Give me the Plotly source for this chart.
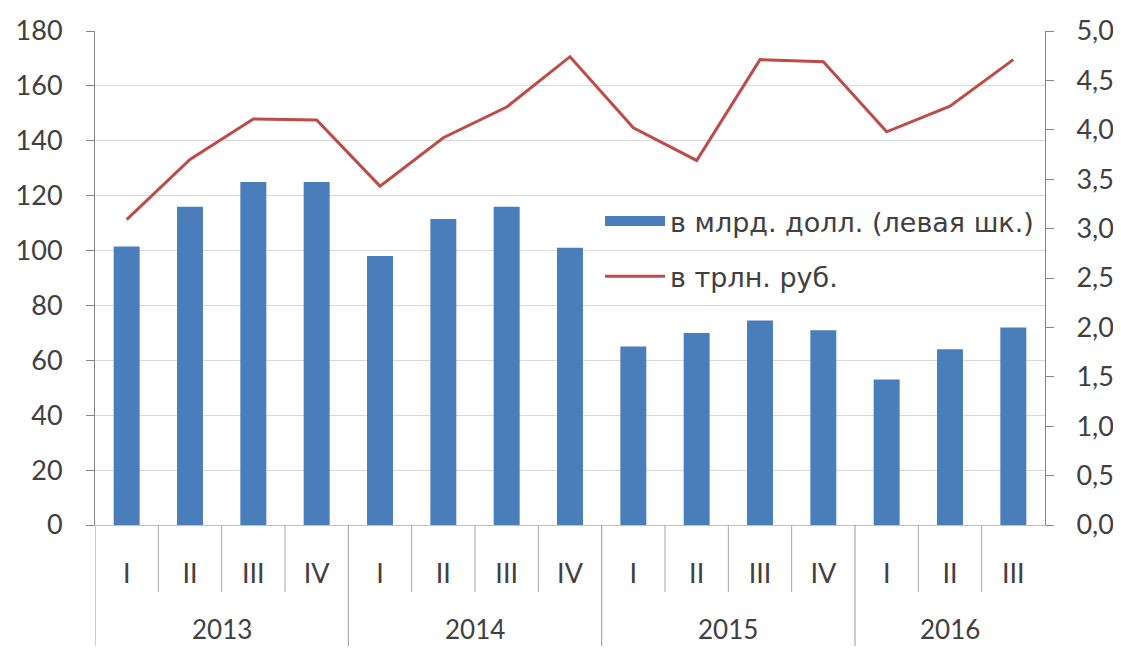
import plotly.graph_objects as go

years = ["2013", "2014", "2015", "2016"]
quarters_per_year = [4, 4, 4, 3]
quarter_names = ["I", "II", "III", "IV"]
usd_bn = [101.5, 116, 125, 125, 98, 111.5, 116, 101, 65, 70, 74.5, 71, 53, 64, 72]
rub_trn = [3.09, 3.70, 4.11, 4.10, 3.43, 3.92, 4.23, 4.74, 4.02, 3.69, 4.71, 4.69, 3.98, 4.24, 4.71]
label_bar = "в млрд. долл. (левая шк.)"
label_line = "в трлн. руб."

quarters = []
for n in quarters_per_year:
    quarters += quarter_names[:n]
x = list(range(len(quarters)))

BLUE = "#4a7ebb"
RED = "#be4b48"
TXT = "#404040"
FONT = "Lato"
FS = 27
LFONT = "DejaVu Sans"

fig = go.Figure()
fig.add_trace(go.Bar(x=x, y=usd_bn, marker=dict(color=BLUE, line=dict(width=0)),
                     width=0.41, name=label_bar, showlegend=False, legendgroup="a"))
fig.add_trace(go.Scatter(x=[None], y=[None], mode="lines", name=label_bar,
                         line=dict(color=BLUE, width=18), legendgroup="a"))
fig.add_trace(go.Scatter(x=x, y=rub_trn, mode="lines", name=label_line,
                         line=dict(color=RED, width=3), yaxis="y2", legendgroup="b"))

shapes = []
annotations = []
start = 0
for yr, n in zip(years, quarters_per_year):
    shapes.append(dict(type="line", xref="x", yref="paper", x0=start - 0.5, x1=start - 0.5,
                       y0=0, y1=-0.3, line=dict(color="#9a9a9a", width=1)))
    for k in range(1, n):
        shapes.append(dict(type="line", xref="x", yref="paper", x0=start + k - 0.5, x1=start + k - 0.5,
                           y0=0, y1=-0.1356, line=dict(color="#a6a6a6", width=1)))
    annotations.append(dict(x=start + (n - 1) / 2, y=-0.2105, xref="x", yref="paper", text=yr,
                            showarrow=False, font=dict(size=26, color=TXT, family=FONT),
                            yanchor="middle", borderpad=0))
    start += n

fig.update_layout(
    width=1105, height=638,
    margin=dict(l=87, r=68, t=23, b=121, autoexpand=False),
    paper_bgcolor="white", plot_bgcolor="white",
    separators=", ",
    font=dict(family=FONT, size=FS, color=TXT),
    showlegend=True,
    legend=dict(x=0.5316, y=0.664, xanchor="left", yanchor="top",
                bgcolor="rgba(255,255,255,0)", font=dict(size=27, color=TXT, family=LFONT),
                tracegroupgap=17, itemwidth=60),
    xaxis=dict(range=[-0.5, len(x) - 0.5], tickvals=x, ticktext=quarters, ticks="",
               showgrid=False, showline=True, linecolor="#bfbfbf", linewidth=1, automargin=False,
               ticklabelstandoff=25, zeroline=False, tickfont=dict(size=FS, color=TXT)),
    yaxis=dict(range=[0, 180], dtick=20, showgrid=True, gridcolor="#d9d9d9", gridwidth=1,
               showline=True, linecolor="#868686", ticks="outside", ticklen=8, tickcolor="#868686",
               zeroline=False, ticklabelstandoff=18, automargin=False,
               tickfont=dict(size=FS, color=TXT)),
    yaxis2=dict(range=[0, 5], dtick=0.5, tickformat=".1f", overlaying="y", side="right",
                showgrid=False, showline=True, linecolor="#868686", ticks="outside", ticklen=8,
                tickcolor="#868686", zeroline=False, ticklabelstandoff=17, automargin=False,
                tickfont=dict(size=FS, color=TXT)),
    shapes=shapes,
    annotations=annotations,
)

fig.write_html("out.html")
